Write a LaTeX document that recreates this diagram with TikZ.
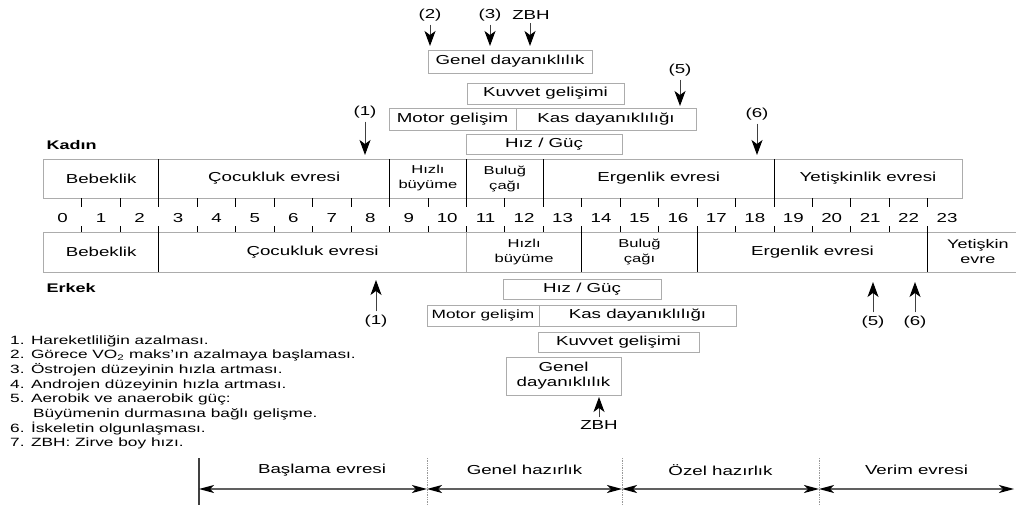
\documentclass[tikz,border=0pt]{standalone}
\usepackage{fontspec}
\setmainfont{Liberation Sans}[FakeStretch=1.44]
\usetikzlibrary{arrows.meta,calc}

\tikzset{
  seg/.style={draw=gray!65, line width=0.8pt, inner sep=0pt, outer sep=0pt,
    anchor=north west, align=center, font=\fontsize{13}{15}\selectfont},
  small/.style={font=\fontsize{11.5}{15}\selectfont},
  divider/.style={black, line width=0.9pt},
  pointer/.style={draw=gray!50!black, line width=1pt,
    -{Stealth[black, length=15pt, width=11pt, inset=4pt]}},
  phase/.style={draw=gray!75!black, line width=1.1pt,
    {Stealth[black, length=15pt, width=8pt, inset=4pt]}-{Stealth[black, length=15pt, width=8pt, inset=4pt]}},
  sex/.style={anchor=west, font=\bfseries\fontsize{12.5}{15}\selectfont},
  lbl/.style={font=\fontsize{13}{15}\selectfont},
  listtxt/.style={anchor=base west, inner sep=0pt, font=\fontsize{12}{14}\selectfont},
}

\begin{document}
\begin{tikzpicture}[x=1pt, y=-1pt]

  \useasboundingbox (0,0) rectangle (1016,532);

  % Upper boxes (Kadin)
  \node[seg, minimum width=164pt, minimum height=23pt] (gdTop) at (428,50) {Genel dayanıklılık};
  \node[seg, minimum width=157pt, minimum height=21pt] (kgTop) at (467,83) {Kuvvet gelişimi};
  \node[seg, minimum width=127pt, minimum height=22pt] (mgTop) at (389,108) {Motor gelişim};
  \node[seg, minimum width=180pt, minimum height=22pt] (kdTop) at (mgTop.north east) {Kas dayanıklılığı};
  \node[seg, minimum width=156pt, minimum height=20pt] (hgTop) at (466,134) {Hız / Güç};

  % Markers above
  \node[lbl] (t2) at (430,15) {(2)};
  \node[lbl] (t3) at (490,15) {(3)};
  \node[lbl] (tz) at (531,15) {ZBH};
  \node[lbl] (t5) at (680,70) {(5)};
  \node[lbl] (t1) at (365,112) {(1)};
  \node[lbl] (t6) at (757,114) {(6)};
  \coordinate (t2e) at (430,46);
  \coordinate (t3e) at (490,46);
  \coordinate (tze) at (530,46);
  \coordinate (t5e) at (680,106);
  \coordinate (t1e) at (365,155);
  \coordinate (t6e) at (757,155);
  \draw[pointer] (t2) -- (t2e);
  \draw[pointer] (t3) -- (t3e);
  \draw[pointer] (tz.south -| tze) -- (tze);
  \draw[pointer] (t5) -- (t5e);
  \draw[pointer] (t1) -- (t1e);
  \draw[pointer] (t6) -- (t6e);

  \node[sex] (kadin) at (43,145) {Kadın};

  % Kadin row
  \node[seg, minimum width=115.35pt, minimum height=39pt] (kBebek) at (43.475,159) {Bebeklik};
  \node[seg, minimum width=230.7pt, minimum height=39pt] (kCocuk) at (kBebek.north east) {Çocukluk evresi};
  \node[seg, small, minimum width=76.9pt, minimum height=39pt] (kHizli) at (kCocuk.north east) {Hızlı\\büyüme};
  \node[seg, small, minimum width=76.9pt, minimum height=39pt] (kBulug) at (kHizli.north east) {Buluğ\\çağı};
  \node[seg, minimum width=230.7pt, minimum height=39pt] (kErgen) at (kBulug.north east) {Ergenlik evresi};
  \node[seg, minimum width=188pt, minimum height=39pt] (kYetis) at (kErgen.north east) {Yetişkinlik evresi};

  % Erkek row
  \node[seg, minimum width=115.35pt, minimum height=40pt] (eBebek) at (43.475,232) {Bebeklik};
  \node[seg, minimum width=307.6pt, minimum height=40pt] (eCocuk) at (eBebek.north east) {Çocukluk evresi};
  \node[seg, small, minimum width=115.35pt, minimum height=40pt] (eHizli) at (eCocuk.north east) {Hızlı\\büyüme};
  \node[seg, small, minimum width=115.35pt, minimum height=40pt] (eBulug) at (eHizli.north east) {Buluğ\\çağı};
  \node[seg, minimum width=230.7pt, minimum height=40pt] (eErgen) at (eBulug.north east) {Ergenlik evresi};
  \node[seg, font=\fontsize{12.5}{15}\selectfont, minimum width=100pt, minimum height=40pt,
        text width=88pt] (eYetis) at (eErgen.north east) {Yetişkin\\evre};

  % Dividers
  \foreach \b in {kBebek,kCocuk,kHizli,kBulug,kErgen}
    \draw[divider] (\b.north east) -- (\b.south east);
  \foreach \b in {eBebek,eHizli,eBulug,eErgen}
    \draw[divider] (\b.north east) -- (\b.south east);

  % Age scale
  \foreach \k in {0,...,23}
    \node[lbl] (age\k) at ({62.7+38.45*\k},218) {\k};
  \foreach \k in {0,...,22} {
    \draw[divider] ({62.7+38.45*(\k+0.5)},198) -- ++(0,9);
    \draw[divider] ({62.7+38.45*(\k+0.5)},232) -- ++(0,-6);
  }

  \node[sex] (erkek) at (43,288) {Erkek};

  % Lower boxes (Erkek)
  \node[seg, minimum width=158pt, minimum height=20pt] (hgBot) at (503,279) {Hız / Güç};
  \node[seg, font=\fontsize{12}{15}\selectfont, minimum width=112pt, minimum height=21pt] (mgBot) at (427,305) {Motor gelişim};
  \node[seg, minimum width=197pt, minimum height=21pt] (kdBot) at (mgBot.north east) {Kas dayanıklılığı};
  \node[seg, minimum width=161pt, minimum height=20pt] (kgBot) at (538,332) {Kuvvet gelişimi};
  \node[seg, minimum width=115pt, minimum height=38pt] (gdBot) at (506,357) {Genel\\dayanıklılık};

  % Markers below
  \node[lbl] (b1) at (376,321) {(1)};
  \node[lbl] (b5) at (873,322) {(5)};
  \node[lbl] (b6) at (915,322) {(6)};
  \node[lbl] (bz) at (599,425) {ZBH};
  \coordinate (b1e) at (376,280);
  \coordinate (b5e) at (873,282);
  \coordinate (b6e) at (915,282);
  \coordinate (bze) at (599,397);
  \draw[pointer] (b1) -- (b1e);
  \draw[pointer] (b5) -- (b5e);
  \draw[pointer] (b6) -- (b6e);
  \draw[pointer] (bz) -- (bze);

  % Notes
  \foreach \t [count=\i] in {{1. Hareketliliğin azalması.},
      {2. Görece VO\textsubscript{2} maks’ın azalmaya başlaması.},
      {3. Östrojen düzeyinin hızla artması.},
      {4. Androjen düzeyinin hızla artması.},
      {5. Aerobik ve anaerobik güç:},
      {\hspace{23pt}Büyümenin durmasına bağlı gelişme.},
      {6. İskeletin olgunlaşması.},
      {7. ZBH: Zirve boy hızı.}}
    \node[listtxt] (item\i) at (10,{329.6+14.65*\i}) {\t};

  % Training phases
  \coordinate (p0) at (199,489);
  \coordinate (p1) at (427,489);
  \coordinate (p2) at (622,489);
  \coordinate (p3) at (819,489);
  \coordinate (p4) at (1014,489);
  \draw[black!75, line width=1.4pt] (199,458) -- (199,505);
  \foreach \x in {427,622,819}
    \draw[gray!80, densely dotted, line width=0.7pt] (\x,458) -- (\x,505);
  \draw[phase] (p0) -- (p1);
  \draw[phase] (p1) -- (p2);
  \draw[phase] (p2) -- (p3);
  \draw[phase] (p3) -- (p4);
  \node[lbl] (ph1) at (322,470) {Başlama evresi};
  \node[lbl] (ph2) at ($(p1)!0.5!(p2)+(0,-19)$) {Genel hazırlık};
  \node[lbl] (ph3) at ($(p2)!0.5!(p3)+(0,-19)$) {Özel hazırlık};
  \node[lbl] (ph4) at ($(p3)!0.5!(p4)+(0,-19)$) {Verim evresi};

\end{tikzpicture}
\end{document}
